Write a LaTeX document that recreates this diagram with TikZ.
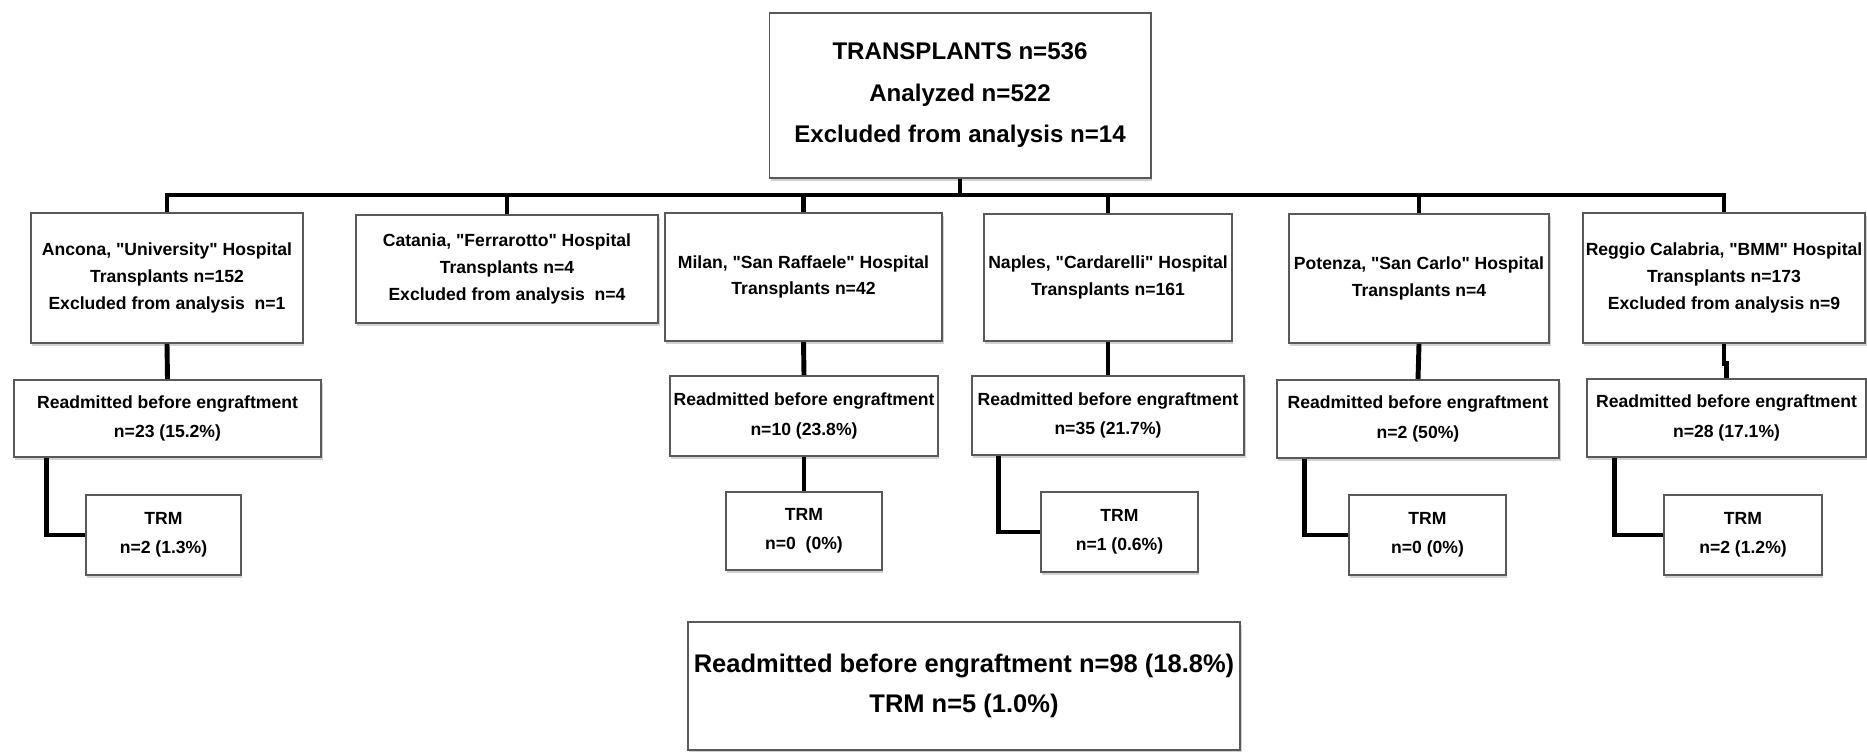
\documentclass[tikz,border=0pt]{standalone}
\usepackage{fontspec}
\setmainfont{Liberation Sans}[Ligatures=TeXOff]
\usepackage{tikz}
\usetikzlibrary{shadows}

\begin{document}
\begin{tikzpicture}[
        x=0.01cm, y=-0.01cm,
        every node/.style={align=center},
        box/.style={draw=black!65, line width=0.5pt, fill=white, inner sep=0pt,
            drop shadow={shadow xshift=0.4pt, shadow yshift=-0.9pt, fill=black!35}},
        big/.style={box, font=\fontsize{6.85}{11.8}\selectfont\bfseries},
        total/.style={box, font=\fontsize{7.25}{11.6}\selectfont\bfseries},
        small/.style={box, font=\fontsize{5}{7.6}\selectfont\bfseries},
        smaller/.style={box, font=\fontsize{5}{8.3}\selectfont\bfseries},
    ]
    \tikzstyle{wire}=[line width=1.4pt]
    \useasboundingbox (0,0) rectangle (1867,752);

    \node[big, minimum width=3.81cm, minimum height=1.65cm] (root) at (960,95.5)
        {TRANSPLANTS n=536\\Analyzed n=522\\Excluded from analysis n=14};

    % centres
    \node[small, minimum width=2.72cm, minimum height=1.30cm] (anc) at (167,278)
        {Ancona, "University" Hospital\\Transplants n=152\\Excluded from analysis\ \ n=1};
    \node[small, minimum width=3.02cm, minimum height=1.08cm] (cat) at (507,269)
        {Catania, "Ferrarotto" Hospital\\Transplants n=4\\Excluded from analysis\ \ n=4};
    \node[small, minimum width=2.77cm, minimum height=1.28cm] (mil) at (803.5,277)
        {Milan, "San Raffaele" Hospital\\Transplants n=42};
    \node[small, minimum width=2.48cm, minimum height=1.27cm] (nap) at (1108,277.5)
        {Naples, "Cardarelli" Hospital\\Transplants n=161};
    \node[small, minimum width=2.60cm, minimum height=1.29cm] (pot) at (1419,278.5)
        {Potenza, "San Carlo" Hospital\\Transplants n=4};
    \node[small, minimum width=2.82cm, minimum height=1.30cm] (reg) at (1724,278)
        {Reggio Calabria, "BMM" Hospital\\Transplants n=173\\Excluded from analysis n=9};

    % readmitted
    \node[smaller, minimum width=3.07cm, minimum height=0.77cm] (ancR) at (167.5,418.5)
        {Readmitted before engraftment\\n=23 (15.2\%)};
    \node[smaller, minimum width=2.68cm, minimum height=0.80cm] (milR) at (804,416)
        {Readmitted before engraftment\\n=10 (23.8\%)};
    \node[smaller, minimum width=2.72cm, minimum height=0.79cm] (napR) at (1108,415.5)
        {Readmitted before engraftment\\n=35 (21.7\%)};
    \node[smaller, minimum width=2.82cm, minimum height=0.78cm] (potR) at (1418,419)
        {Readmitted before engraftment\\n=2 (50\%)};
    \node[smaller, minimum width=2.79cm, minimum height=0.78cm] (regR) at (1726.5,418)
        {Readmitted before engraftment\\n=28 (17.1\%)};

    % TRM
    \node[smaller, minimum width=1.55cm, minimum height=0.80cm] (ancT) at (163.5,535)
        {TRM\\n=2 (1.3\%)};
    \node[smaller, minimum width=1.56cm, minimum height=0.78cm] (milT) at (804,531)
        {TRM\\n=0\ \ (0\%)};
    \node[smaller, minimum width=1.57cm, minimum height=0.80cm] (napT) at (1119.5,532)
        {TRM\\n=1 (0.6\%)};
    \node[smaller, minimum width=1.57cm, minimum height=0.80cm] (potT) at (1427.5,535)
        {TRM\\n=0 (0\%)};
    \node[smaller, minimum width=1.58cm, minimum height=0.80cm] (regT) at (1743,535)
        {TRM\\n=2 (1.2\%)};

    \node[total, minimum width=5.52cm, minimum height=1.28cm] (sum) at (964,686)
        {Readmitted before engraftment n=98 (18.8\%)\\TRM n=5 (1.0\%)};

    % bus
    \coordinate (bus) at (960,195);
    \draw[wire] (root.south) -- (bus);
    \draw[wire] (anc.north) |- (bus) -| (reg.north);
    \draw[wire] (cat.north) -- (cat.north |- bus);
    \draw[wire] (mil.north) -- (mil.north |- bus);
    \draw[wire] (nap.north) -- (nap.north |- bus);
    \draw[wire] (pot.north) -- (pot.north |- bus);

    \draw[wire] (anc.south) -- (ancR.north);
    \draw[wire] (mil.south) -- (milR.north);
    \draw[wire] (nap.south) -- (napR.north);
    \draw[wire] (pot.south) -- (potR.north);
    \draw[wire] (reg.south) -- ++(0,20) -| (regR.north);

    \draw[wire] ([xshift=0.33cm]ancR.south west) |- (ancT.west);
    \draw[wire] (milR.south) -- (milT.north);
    \draw[wire] ([xshift=0.27cm]napR.south west) |- (napT.west);
    \draw[wire] ([xshift=0.28cm]potR.south west) |- (potT.west);
    \draw[wire] ([xshift=0.28cm]regR.south west) |- (regT.west);
\end{tikzpicture}
\end{document}
